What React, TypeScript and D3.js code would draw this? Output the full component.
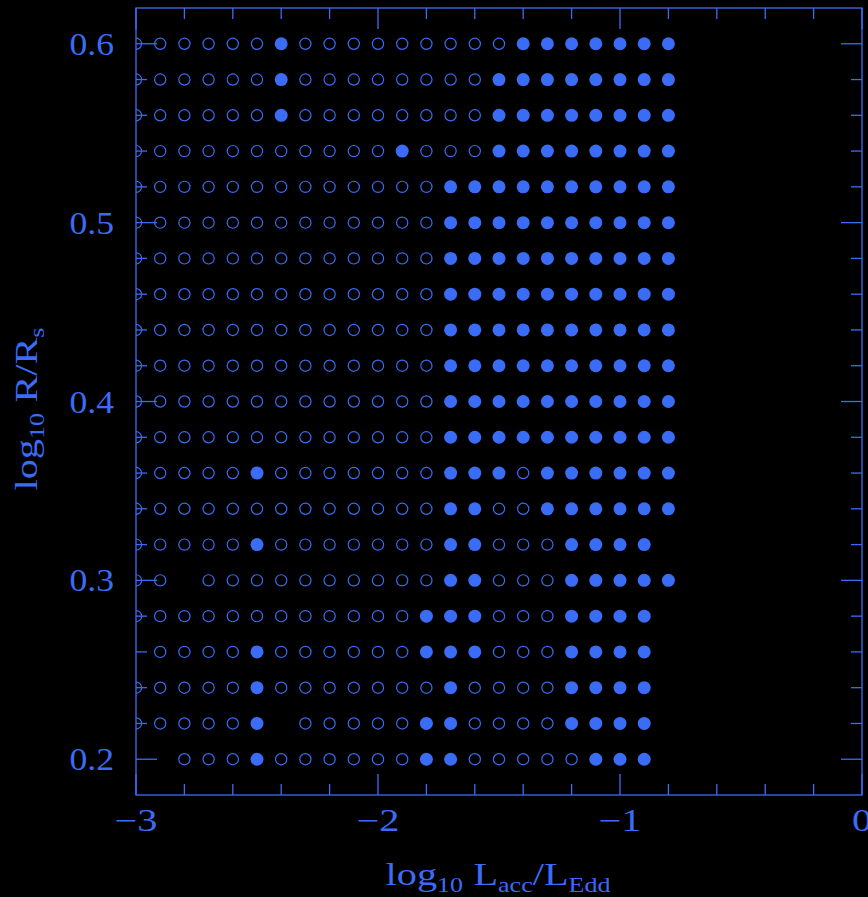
import React from "react";
import * as d3 from "d3";

// Column positions (log10 Lacc/LEdd) and row positions (log10 R/Rs)
const lumValues = [-3.0, -2.9, -2.8, -2.7, -2.6, -2.5, -2.4, -2.3, -2.2, -2.1, -2.0, -1.9, -1.8, -1.7, -1.6, -1.5, -1.4, -1.3, -1.2, -1.1, -1.0, -0.9, -0.8];
const radiusValues = [0.60, 0.58, 0.56, 0.54, 0.52, 0.50, 0.48, 0.46, 0.44, 0.42, 0.40, 0.38, 0.36, 0.34, 0.32, 0.30, 0.28, 0.26, 0.24, 0.22, 0.20];
// O = open circle, F = filled circle, _ = no model
const markerRows = [
  "OOOOOOFOOOOOOOOOFFFFFFF", // 0.60
  "OOOOOOFOOOOOOOOFFFFFFFF", // 0.58
  "OOOOOOFOOOOOOOOFFFFFFFF", // 0.56
  "OOOOOOOOOOOFOOOFFFFFFFF", // 0.54
  "OOOOOOOOOOOOOFFFFFFFFFF", // 0.52
  "OOOOOOOOOOOOOFFFFFFFFFF", // 0.50
  "OOOOOOOOOOOOOFFFFFFFFFF", // 0.48
  "OOOOOOOOOOOOOFFFFFFFFFF", // 0.46
  "OOOOOOOOOOOOOFFFFFFFFFF", // 0.44
  "OOOOOOOOOOOOOFFFFFFFFFF", // 0.42
  "OOOOOOOOOOOOOFFFFFFFFFF", // 0.40
  "OOOOOOOOOOOOOFFFFFFFFFF", // 0.38
  "OOOOOFOOOOOOOFFFOFFFFFF", // 0.36
  "OOOOOOOOOOOOOFFOOFFFFFF", // 0.34
  "OOOOOFOOOOOOOFFOOOFFFF_", // 0.32
  "OO_OOOOOOOOOOFFOOOFFFFF", // 0.30
  "OOOOOOOOOOOOFFFOOOFFFF_", // 0.28
  "_OOOOFOOOOOOFFFOOOFFFF_", // 0.26
  "OOOOOFOOOOOOOFOOOOFFFF_", // 0.24
  "OOOOOF_OOOOOFFOOOOFFFF_", // 0.22
  "__OOOFOOOOOOFFOOOOOFFF_", // 0.20
];

const xMajorTicks = [-3, -2, -1, 0];
const xMinorTicks = [-2.8, -2.6, -2.4, -2.2, -1.8, -1.6, -1.4, -1.2, -0.8, -0.6, -0.4, -0.2];
const xTickLabels = ["\u22123", "\u22122", "\u22121", "0"];
const yMajorTicks = [0.2, 0.3, 0.4, 0.5, 0.6];
const yMinorTicks = [0.22, 0.24, 0.26, 0.28, 0.32, 0.34, 0.36, 0.38, 0.42, 0.44, 0.46, 0.48, 0.52, 0.54, 0.56, 0.58];
const yTickLabels = ["0.2", "0.3", "0.4", "0.5", "0.6"];

const W = 868;
const H = 897;
const frame = { left: 136, right: 862, top: 8, bottom: 795 };
const COLOR = "#3b6cf6";
const FONT = "'Liberation Serif', 'DejaVu Serif', serif";
const MAJOR = 21;
const MINOR = 11;

export default function App() {
  const x = d3.scaleLinear().domain([-3, 0]).range([frame.left, frame.right]);
  const y = d3.scaleLinear().domain([0.18, 0.62]).range([frame.bottom, frame.top]);

  const points: { lx: number; ly: number; kind: string }[] = [];
  markerRows.forEach((row, ri) => {
    row.split("").forEach((c, ci) => {
      if (c !== "_") points.push({ lx: lumValues[ci], ly: radiusValues[ri], kind: c });
    });
  });

  return (
    <svg width={W} height={H} style={{ position: "absolute", left: 0, top: 0, display: "block" }}>
      <rect x={0} y={0} width={W} height={H} fill="#000" />
      <defs>
        <clipPath id="plotclip">
          <rect x={frame.left} y={frame.top} width={frame.right - frame.left} height={frame.bottom - frame.top} />
        </clipPath>
      </defs>
      <g clipPath="url(#plotclip)">
        {points.map((p, i) =>
          p.kind === "F" ? (
            <circle key={i} cx={x(p.lx)} cy={y(p.ly)} r={6.5} fill={COLOR} />
          ) : (
            <circle key={i} cx={x(p.lx)} cy={y(p.ly)} r={5.6} fill="none" stroke={COLOR} strokeWidth={1.2} />
          )
        )}
      </g>
      <g stroke={COLOR} strokeWidth={1.3} fill="none">
        <rect x={frame.left} y={frame.top} width={frame.right - frame.left} height={frame.bottom - frame.top} />
        {xMajorTicks.map((t) => (
          <g key={"xM" + t}>
            <line x1={x(t)} x2={x(t)} y1={frame.bottom} y2={frame.bottom - MAJOR} />
            <line x1={x(t)} x2={x(t)} y1={frame.top} y2={frame.top + MAJOR} />
          </g>
        ))}
        {xMinorTicks.map((t) => (
          <g key={"xm" + t}>
            <line x1={x(t)} x2={x(t)} y1={frame.bottom} y2={frame.bottom - MINOR} />
            <line x1={x(t)} x2={x(t)} y1={frame.top} y2={frame.top + MINOR} />
          </g>
        ))}
        {yMajorTicks.map((t) => (
          <g key={"yM" + t}>
            <line x1={frame.left} x2={frame.left + MAJOR} y1={y(t)} y2={y(t)} />
            <line x1={frame.right} x2={frame.right - MAJOR} y1={y(t)} y2={y(t)} />
          </g>
        ))}
        {yMinorTicks.map((t) => (
          <g key={"ym" + t}>
            <line x1={frame.left} x2={frame.left + MINOR} y1={y(t)} y2={y(t)} />
            <line x1={frame.right} x2={frame.right - MINOR} y1={y(t)} y2={y(t)} />
          </g>
        ))}
      </g>
      <g fill={COLOR} fontFamily={FONT} fontSize={31}>
        {xMajorTicks.map((t, i) => (
          <text key={"xl" + t} transform={`translate(${x(t)},831) scale(1.3,1)`} textAnchor="middle">{xTickLabels[i]}</text>
        ))}
        {yMajorTicks.map((t, i) => (
          <text key={"yl" + t} transform={`translate(114,${y(t) + 11}) scale(1.15,1)`} textAnchor="end">{yTickLabels[i]}</text>
        ))}
        <text transform="translate(498,885) scale(1.3,1)" textAnchor="middle">
          log<tspan fontSize={20} dy={7}>10</tspan>
          <tspan dx={8} dy={-7}>L</tspan>
          <tspan fontSize={20} dy={7}>acc</tspan>
          <tspan dy={-7}>/L</tspan>
          <tspan fontSize={20} dy={7}>Edd</tspan>
        </text>
        <text transform={`translate(37,409) rotate(-90) scale(1.3,1)`} textAnchor="middle">
          log<tspan fontSize={20} dy={7}>10</tspan>
          <tspan dx={8} dy={-7}>R/R</tspan>
          <tspan fontSize={20} dy={7}>s</tspan>
        </text>
      </g>
    </svg>
  );
}
